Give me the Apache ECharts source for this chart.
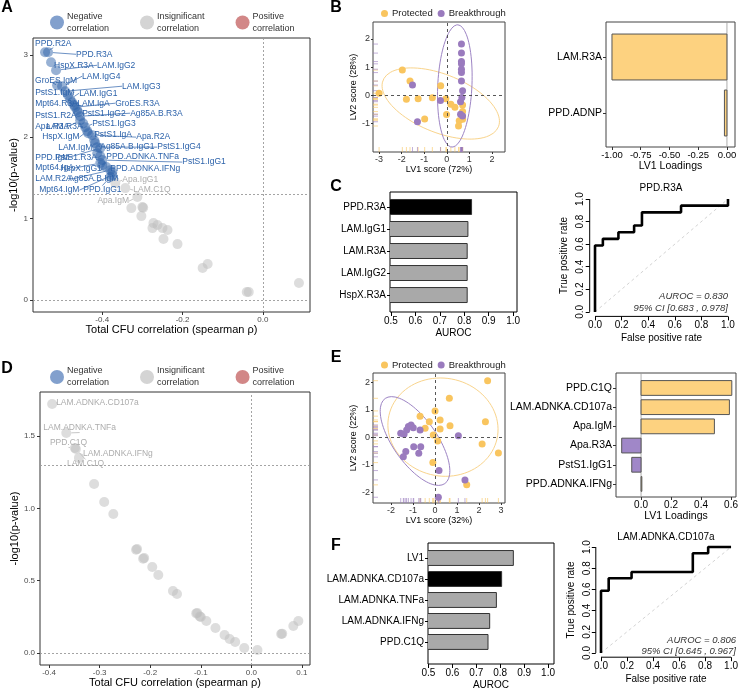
<!DOCTYPE html>
<html><head><meta charset="utf-8">
<script src="https://cdn.jsdelivr.net/npm/echarts@6.0.0/dist/echarts.min.js"></script>
<style>html,body{margin:0;padding:0;background:#fff;}#c{width:741px;height:693px;}</style>
</head><body><div id="c"></div>
<script>
// ================= DATA =================
// Panel A – volcano, significant (negative correlation)
const aSigNames = ['PPD.R2A','PPD.R3A','HspX.R3A','LAM.IgG2','GroES.IgM','LAM.IgG4','LAM.IgG3','PstS1.IgM','LAM.IgG1','Mpt64.R3A','LAM.IgA','GroES.R3A','PstS1.R2A','PstS1.IgG2','Ag85A.B.R3A','Apa.R3A','LAM.R3A','PstS1.IgG3','HspX.IgM','PstS1.IgA','Apa.R2A','LAM.IgM','Ag85A.B.IgG1','PstS1.IgG4','PPD.IgM','PstS1.R3A','PPD.ADNKA.TNFa','PstS1.IgG1','Mpt64.IgA','HspX.IgG1','PPD.ADNKA.IFNg','LAM.R2A','Ag85A.B.IgM','Mpt64.IgM','PPD.IgG1'];
const aSigRho = [-0.5425,-0.535,-0.5275,-0.515,-0.5125,-0.5,-0.4925,-0.485,-0.48,-0.475,-0.47,-0.4675,-0.4625,-0.46,-0.455,-0.455,-0.4475,-0.4425,-0.4375,-0.435,-0.425,-0.42,-0.4175,-0.4125,-0.405,-0.4125,-0.405,-0.40,-0.405,-0.40,-0.39,-0.38,-0.375,-0.375,-0.38];
const aSigLogP = [3.035,3.035,2.913,2.815,2.632,2.619,2.558,2.509,2.460,2.423,2.387,2.362,2.326,2.301,2.252,2.203,2.166,2.118,2.069,2.044,2.020,1.958,1.922,1.873,1.860,1.799,1.763,1.714,1.677,1.652,1.628,1.591,1.567,1.530,1.506];
// Panel A – insignificant
const aInsNames = ['Apa.IgG1','LAM.C1Q','Apa.IgM','','','','','','','','','','','','','','','',''];
const aInsRho = [-0.3675,-0.3425,-0.3125,-0.3275,-0.30,-0.298,-0.3025,-0.2725,-0.2625,-0.275,-0.25,-0.2375,-0.2475,-0.2125,-0.15,-0.1375,-0.04,-0.035,0.09];
const aInsLogP = [1.432,1.371,1.261,1.126,1.138,1.13,1.028,0.942,0.918,0.881,0.881,0.857,0.747,0.685,0.392,0.441,0.098,0.098,0.208];
const aXTicks = [-0.4,-0.2,0.0];
const aYTicks = [0,1,2,3];

// Panel B – PLS-DA scores
const bProtX = [-3.0,-1.97,-1.63,-1.79,-1.27,-0.64,-0.98,-0.27,-0.04,0.18,0.36,-0.01,0.70,0.70,0.55,0.70,0.52];
const bProtY = [0.08,0.90,0.51,-0.13,-0.12,-0.08,-0.83,0.34,-0.12,-0.31,-0.42,-0.67,-0.34,-0.57,-0.89,-0.84,-1.08];
const bBreakX = [-1.52,-1.30,-0.28,0.61,0.65,0.65,0.65,0.65,0.65,0.65,0.65,0.70,0.67,0.61,0.70];
const bBreakY = [0.37,-0.93,-0.18,-0.22,1.82,1.50,1.20,1.12,0.93,0.81,0.51,0.17,-0.07,-0.66,-0.73];
const bXTicks = [-3,-2,-1,0,1,2];
const bYTicks = [-1,0,1,2];
// confidence ellipses: centre + two conjugate semi-axes (data units)
const bEllProt = {c:[-0.267,-0.284], u:[2.556,-0.823], v:[-0.484,-0.954]};
const bEllBreak = {c:[0.356,0.337], u:[0.133,2.163], v:[0.756,-0.035]};
// Panel B – loadings
const bLoadNames = ['LAM.R3A','PPD.ADNP'];
const bLoadVals = [-1.0,-0.022];
const bLoadGroup = ['Protected','Protected'];
const bLoadTicks = [-1.0,-0.75,-0.5,-0.25,0.0];

// Panel C – AUROC bars and ROC
const cNames = ['PPD.R3A','LAM.IgG1','LAM.R3A','LAM.IgG2','HspX.R3A'];
const cAuroc = [0.830,0.815,0.812,0.812,0.812];
const cHighlight = 'PPD.R3A';
const cFpr = [0,0,0.059,0.059,0.176,0.176,0.294,0.294,0.353,0.353,0.647,0.647,1,1];
const cTpr = [0,0.588,0.588,0.647,0.647,0.706,0.706,0.765,0.765,0.882,0.882,0.941,0.941,1];
const aurocTicks = [0.5,0.6,0.7,0.8,0.9,1.0];
const rocTicks = [0,0.2,0.4,0.6,0.8,1.0];

// Panel D – volcano (all insignificant)
const dNames = ['LAM.ADNKA.CD107a','LAM.ADNKA.TNFa','PPD.C1Q','LAM.C1Q','LAM.ADNKA.IFNg','','','','','','','','','','','','','','','','','','','','','','','','',''];
const dRho = [-0.394,-0.366,-0.349,-0.347,-0.341,-0.311,-0.291,-0.273,-0.226,-0.228,-0.212,-0.214,-0.196,-0.184,-0.155,-0.147,-0.107,-0.109,-0.100,-0.102,-0.089,-0.071,-0.053,-0.043,-0.032,-0.014,0.012,0.059,0.061,0.083,0.093];
const dLogP = [1.723,1.522,1.419,1.412,1.350,1.170,1.045,0.962,0.720,0.715,0.657,0.652,0.595,0.540,0.429,0.408,0.277,0.274,0.249,0.252,0.221,0.173,0.125,0.097,0.076,0.035,0.021,0.131,0.134,0.187,0.221];
const dXTicks = [-0.4,-0.3,-0.2,-0.1,0.0,0.1];
const dYTicks = [0.0,0.5,1.0,1.5];

// Panel E – PLS-DA scores
const eProtX = [2.39,0.65,0.0,-0.68,0.23,0.68,-0.26,-0.45,0.23,2.29,-0.08,0.12,2.14,2.88,-0.10,1.44];
const eProtY = [2.06,1.42,0.96,0.77,0.63,0.42,0.57,0.33,0.30,0.57,0.08,-0.13,-0.24,-0.57,-0.92,-1.73];
const eBreakX = [1.06,-1.56,-1.41,-1.29,-1.21,-1.09,-0.99,-0.68,-0.97,-0.65,-0.74,-1.33,-1.44,0.18,1.36,0.15];
const eBreakY = [0.06,0.15,0.11,0.27,0.39,0.45,0.35,0.27,-0.34,-0.34,-0.58,-0.52,-0.71,-1.21,-1.55,-2.18];
const eXTicks = [-2,-1,0,1,2,3];
const eYTicks = [-2,-1,0,1,2];
const eEllProt = {c:[0.36,0.37], u:[2.5,-0.18], v:[-0.136,-1.78]};
const eEllBreak = {c:[-0.91,-0.135], u:[1.355,-1.549], v:[-0.818,-0.458]};
// Panel E – loadings
const eLoadNames = ['PPD.C1Q','LAM.ADNKA.CD107a','Apa.IgM','Apa.R3A','PstS1.IgG1','PPD.ADNKA.IFNg'];
const eLoadVals = [0.605,0.589,0.489,-0.129,-0.062,0.005];
const eLoadGroup = ['Protected','Protected','Protected','Breakthrough','Breakthrough','Protected'];
const eLoadTicks = [0.0,0.2,0.4,0.6];

// Panel F – AUROC bars and ROC
const fNames = ['LV1','LAM.ADNKA.CD107a','LAM.ADNKA.TNFa','LAM.ADNKA.IFNg','PPD.C1Q'];
const fAuroc = [0.855,0.806,0.784,0.756,0.749];
const fHighlight = 'LAM.ADNKA.CD107a';
const fFpr = [0,0,0.059,0.059,0.235,0.235,0.706,0.706,0.824,0.824,1];
const fTpr = [0,0.588,0.588,0.706,0.706,0.765,0.765,0.941,0.941,1,1];

// ================= STYLE =================
const FF = '"Liberation Sans", Arial, Helvetica, sans-serif';
const COL = {neg:'rgba(45,98,168,0.62)', negTxt:'#2c62aa', ins:'rgba(190,190,190,0.65)', insTxt:'#adadad', prot:'#F9C55F', breakC:'#9A7BBE',
  protEll:'#F9D48C', breakEll:'#9D84C4', protBar:'#FDD280', breakBar:'#A087C8'};
const aSigLabelOff = [[-10,-9],[28,2],[3,3],[41,-5],[-22,-5],[20,-10],[57,-5],[-33,-3],[9,-6],[-37,1],[3,-2],[40,-4],[-42,6],[4,1],[50,-3],[-45,6],[-37,3],[7,-3],[-45,6],[6,1],[44,2],[-36,7],[5,4],[60,0],[-65,9],[-42,4],[6,1],[80,2],[-65,5],[-42,3],[4,2],[-75,9],[-44,7],[-73,15],[-27,13]];
const aInsLabelOff = [[7,-3],[8,2],[-40,4]];
const dLabelOff = [[4,-1],[-23,-5],[-25,-5],[-9,15],[4,-4]];

function mkAxis(p){
  return {
    type:'value', gridIndex:p.g, min:p.min, max:p.max, inverse:!!p.inv,
    splitLine:{show:false},
    axisLine:{show:false, onZero:false},
    axisTick:{show:true, customValues:p.ticks, length:p.tl==null?3:p.tl, lineStyle:{color:p.tc||'#333', width:1}},
    axisLabel:{show:true, customValues:p.ticks, formatter:p.fmt||(v=>String(v)), fontFamily:FF, fontSize:p.fs||8,
      color:p.lc||'#4d4d4d', margin:p.m==null?4:p.m, rotate:p.rot||0},
    name:p.name||'', nameLocation:'middle', nameGap:p.gap||12, nameRotate:p.nr,
    nameTextStyle:{fontFamily:FF, fontSize:p.nfs||10, color:'#000'}
  };
}
function ell(e){ const pts=[]; for(let k=0;k<=90;k++){const t=2*Math.PI*k/90; pts.push([e.c[0]+e.u[0]*Math.cos(t)+e.v[0]*Math.sin(t), e.c[1]+e.u[1]*Math.cos(t)+e.v[1]*Math.sin(t)]);} return pts; }
function pairs(xs,ys){ return xs.map((x,i)=>[x,ys[i]]); }
function barSeries(g, vals, fills, strokes, frac, base){
  return {type:'custom', xAxisIndex:g, yAxisIndex:g, clip:true, silent:true,
    data: vals.map((v,i)=>[v,i]), encode:{x:0,y:1},
    renderItem:(params, api)=>{
      const v=api.value(0), i=api.value(1);
      const p0=api.coord([base,i]), p1=api.coord([v,i]);
      const h=Math.abs(api.size([0,1])[1])*frac;
      return {type:'rect', shape:{x:Math.min(p0[0],p1[0]), y:p0[1]-h/2, width:Math.max(Math.abs(p1[0]-p0[0]),0.8), height:h},
        style:{fill:fills[params.dataIndex], stroke:strokes[params.dataIndex], lineWidth:1}};
    }};
}
function rug(g, xs, ys, xMin, yMin, color){
  return [
    {type:'scatter', xAxisIndex:g, yAxisIndex:g, silent:true, clip:false, symbol:'rect', symbolSize:[1,5], symbolOffset:[0,-2.5],
     itemStyle:{color:color, opacity:0.6}, data: xs.map(x=>[x,yMin]), z:1},
    {type:'scatter', xAxisIndex:g, yAxisIndex:g, silent:true, clip:false, symbol:'rect', symbolSize:[5,1], symbolOffset:[2.5,0],
     itemStyle:{color:color, opacity:0.6}, data: ys.map(y=>[xMin,y]), z:1}
  ];
}
function lineS(g, data, color, width, type, z){
  return {type:'line', xAxisIndex:g, yAxisIndex:g, data:data, showSymbol:false, symbol:'none', silent:true, clip:false, z:z||2,
    lineStyle:{color:color, width:width, type:type||'solid'}};
}
function labOffLayout(offs){
  return function(p){ const o=offs[p.dataIndex]; if(!o) return {};
    return {x:p.rect.x+p.rect.width/2+o[0], y:p.rect.y+p.rect.height/2+o[1], align:'left', verticalAlign:'middle'}; };
}

const AX = {a:[-0.5725,0.1175,-0.147,3.21], b:[-3.27,2.58,-2.0,2.6], bl:[-1.052,0.07,-0.625,1.607], c:[0.496,1.016,-0.68,4.77],
  roc:[-0.04,1.04], d:[-0.418,0.116,-0.083,1.806], e:[-2.82,3.18,-2.39,2.34], el:[-0.167,0.633,-0.78,5.68], f:[0.498,1.025,-0.714,5.05]};
const thr = -Math.log10(0.05);

const xAxis = [
  mkAxis({g:0,min:AX.a[0],max:AX.a[1],ticks:aXTicks,fmt:v=>v.toFixed(1),name:'Total CFU correlation (spearman ρ)',gap:11,nfs:11,m:4}),
  mkAxis({g:1,min:AX.b[0],max:AX.b[1],ticks:bXTicks,name:'LV1 score (72%)',gap:10,fs:9,nfs:9,lc:'#333',m:3,tl:2}),
  mkAxis({g:2,min:AX.bl[0],max:AX.bl[1],ticks:bLoadTicks,fmt:v=>v.toFixed(2),name:'LV1 Loadings',gap:12,fs:9.5,nfs:10.5,lc:'#000',m:3}),
  mkAxis({g:3,min:AX.c[0],max:AX.c[1],ticks:aurocTicks,fmt:v=>v.toFixed(1),name:'AUROC',gap:16,fs:10,nfs:10,lc:'#000',m:4,tl:4,tc:'#000'}),
  mkAxis({g:4,min:AX.roc[0],max:AX.roc[1],ticks:rocTicks,fmt:v=>v.toFixed(1),name:'False positive rate',gap:17,fs:10,nfs:10,lc:'#000',m:4,tl:4,tc:'#000'}),
  mkAxis({g:5,min:AX.d[0],max:AX.d[1],ticks:dXTicks,fmt:v=>v.toFixed(1),name:'Total CFU correlation (spearman ρ)',gap:11,nfs:11,m:4}),
  mkAxis({g:6,min:AX.e[0],max:AX.e[1],ticks:eXTicks,name:'LV1 score (32%)',gap:10,fs:9,nfs:9,lc:'#333',m:3,tl:2}),
  mkAxis({g:7,min:AX.el[0],max:AX.el[1],ticks:eLoadTicks,fmt:v=>v.toFixed(1),name:'LV1 Loadings',gap:12,fs:10,nfs:10.5,lc:'#000',m:3}),
  mkAxis({g:8,min:AX.f[0],max:AX.f[1],ticks:aurocTicks,fmt:v=>v.toFixed(1),name:'AUROC',gap:16,fs:10,nfs:10,lc:'#000',m:4,tl:4,tc:'#000'}),
  mkAxis({g:9,min:AX.roc[0],max:AX.roc[1],ticks:rocTicks,fmt:v=>v.toFixed(1),name:'False positive rate',gap:17,fs:10,nfs:10,lc:'#000',m:4,tl:4,tc:'#000'})
];
const yAxis = [
  mkAxis({g:0,min:AX.a[2],max:AX.a[3],ticks:aYTicks,name:'-log10(p-value)',gap:14,nfs:11,m:5,nr:90}),
  mkAxis({g:1,min:AX.b[2],max:AX.b[3],ticks:bYTicks,name:'LV2 score (28%)',gap:12,fs:9,nfs:9,lc:'#333',m:3,tl:2,nr:90}),
  mkAxis({g:2,min:AX.bl[2],max:AX.bl[3],inv:true,ticks:[0,1],fmt:v=>bLoadNames[Math.round(v)],fs:10.5,lc:'#000',m:4}),
  mkAxis({g:3,min:AX.c[2],max:AX.c[3],inv:true,ticks:[0,1,2,3,4],fmt:v=>cNames[Math.round(v)],fs:10,lc:'#000',m:4,tl:3,tc:'#000'}),
  mkAxis({g:4,min:AX.roc[0],max:AX.roc[1],ticks:rocTicks,fmt:v=>v.toFixed(1),name:'True positive rate',gap:20,fs:10,nfs:10,lc:'#000',m:4,tl:4,tc:'#000',rot:90,nr:90}),
  mkAxis({g:5,min:AX.d[2],max:AX.d[3],ticks:dYTicks,fmt:v=>v.toFixed(1),name:'-log10(p-value)',gap:20,nfs:11,m:5,nr:90}),
  mkAxis({g:6,min:AX.e[2],max:AX.e[3],ticks:eYTicks,name:'LV2 score (22%)',gap:12,fs:9,nfs:9,lc:'#333',m:3,tl:2,nr:90}),
  mkAxis({g:7,min:AX.el[2],max:AX.el[3],inv:true,ticks:[0,1,2,3,4,5],fmt:v=>eLoadNames[Math.round(v)],fs:10.5,lc:'#000',m:4}),
  mkAxis({g:8,min:AX.f[2],max:AX.f[3],inv:true,ticks:[0,1,2,3,4],fmt:v=>fNames[Math.round(v)],fs:10,lc:'#000',m:4,tl:3,tc:'#000'}),
  mkAxis({g:9,min:AX.roc[0],max:AX.roc[1],ticks:rocTicks,fmt:v=>v.toFixed(1),name:'True positive rate',gap:20,fs:10,nfs:10,lc:'#000',m:4,tl:4,tc:'#000',rot:90,nr:90})
];

const grid = [
  {left:33, top:38, width:277, height:274, show:true, borderColor:'#333', borderWidth:1},
  {left:373, top:22, width:132, height:130, show:true, borderColor:'#444', borderWidth:1},
  {left:606, top:22, width:129, height:125, show:true, borderColor:'#444', borderWidth:1},
  {left:390, top:192, width:127, height:120, show:true, borderColor:'#000', borderWidth:1},
  {left:589.7, top:194.5, width:143.6, height:121.9, show:false},
  {left:40, top:392, width:270, height:273, show:true, borderColor:'#333', borderWidth:1},
  {left:373, top:373, width:132, height:130, show:true, borderColor:'#444', borderWidth:1},
  {left:616, top:373, width:120, height:124, show:true, borderColor:'#444', borderWidth:1},
  {left:428, top:543, width:126, height:121, show:true, borderColor:'#000', borderWidth:1},
  {left:595.8, top:542.8, width:141.4, height:114.4, show:false}
];

const refLineStyle = {color:'#9a9a9a', width:0.9, type:[2,2]};
const series = [];
// ---- A ----
series.push({name:'Insignificant correlation', type:'scatter', xAxisIndex:0, yAxisIndex:0, symbolSize:10, z:3,
  itemStyle:{color:COL.ins},
  data: aInsRho.map((x,i)=>({value:[x,aInsLogP[i]], name:aInsNames[i], label:{show:aInsNames[i]!==''}})),
  label:{show:true, formatter:'{b}', fontFamily:FF, fontSize:8.5, color:COL.insTxt, opacity:1},
  labelLayout: labOffLayout(aInsLabelOff), labelLine:{show:true, lineStyle:{color:COL.insTxt, width:0.7, opacity:1}},
  markLine:{silent:true, symbol:'none', label:{show:false}, lineStyle:refLineStyle, animation:false,
    data:[{xAxis:0},{yAxis:0},{yAxis:thr}]}});
series.push({name:'Negative correlation', type:'scatter', xAxisIndex:0, yAxisIndex:0, symbolSize:10, z:4,
  itemStyle:{color:COL.neg},
  data: aSigRho.map((x,i)=>({value:[x,aSigLogP[i]], name:aSigNames[i]})),
  label:{show:true, formatter:'{b}', fontFamily:FF, fontSize:8.5, color:COL.negTxt, opacity:1},
  labelLayout: labOffLayout(aSigLabelOff), labelLine:{show:true, lineStyle:{color:COL.negTxt, width:0.7, opacity:1}}});
series.push({name:'Positive correlation', type:'scatter', xAxisIndex:0, yAxisIndex:0, data:[], itemStyle:{color:'#d28787'}});
// ---- B ----
series.push(lineS(1, ell(bEllProt), COL.protEll, 1));
series.push(lineS(1, ell(bEllBreak), COL.breakEll, 1));
series.push(...rug(1, bProtX, bProtY, AX.b[0], AX.b[2], COL.prot));
series.push(...rug(1, bBreakX, bBreakY, AX.b[0], AX.b[2], COL.breakC));
series.push({name:'Protected', type:'scatter', xAxisIndex:1, yAxisIndex:1, symbolSize:7, z:3, itemStyle:{color:COL.prot, opacity:1},
  data:pairs(bProtX,bProtY),
  markLine:{silent:true, symbol:'none', label:{show:false}, lineStyle:{color:'#444', width:0.9, type:[3,3]}, data:[{xAxis:0},{yAxis:0}]}});
series.push({name:'Breakthrough', type:'scatter', xAxisIndex:1, yAxisIndex:1, symbolSize:7, z:3, itemStyle:{color:COL.breakC, opacity:1},
  data:pairs(bBreakX,bBreakY)});
// B loadings
series.push(barSeries(2, bLoadVals, bLoadGroup.map(g=>g==='Protected'?COL.protBar:COL.breakBar), bLoadGroup.map(()=> '#555'), 0.82, 0));
series.push(lineS(2, [[0,AX.bl[2]],[0,AX.bl[3]]], '#999', 0.8, 'solid', 1));
// ---- C ----
series.push(barSeries(3, cAuroc, cNames.map(n=>n===cHighlight?'#000':'#A9A9A9'), cNames.map(()=> '#333'), 0.68, 0));
series.push(lineS(4, [[0,0],[1,1]], '#c8c8c8', 0.8, [3,3], 1));
series.push(lineS(4, pairs(cFpr,cTpr), '#000', 2.6, 'solid', 3));
series.push(lineS(4, [[0,AX.roc[0]],[1,AX.roc[0]]], '#000', 1));
series.push(lineS(4, [[AX.roc[0],0],[AX.roc[0],1]], '#000', 1));
// ---- D ----
series.push({name:'Insignificant correlation', type:'scatter', xAxisIndex:5, yAxisIndex:5, symbolSize:10, z:3,
  itemStyle:{color:COL.ins},
  data: dRho.map((x,i)=>({value:[x,dLogP[i]], name:dNames[i]||'', label:{show:!!dNames[i]}})),
  label:{show:true, formatter:'{b}', fontFamily:FF, fontSize:8.5, color:COL.insTxt, opacity:1},
  labelLayout: labOffLayout(dLabelOff), labelLine:{show:true, lineStyle:{color:COL.insTxt, width:0.7, opacity:1}},
  markLine:{silent:true, symbol:'none', label:{show:false}, lineStyle:refLineStyle, data:[{xAxis:0},{yAxis:0},{yAxis:thr}]}});
// ---- E ----
series.push(lineS(6, ell(eEllProt), COL.protEll, 1));
series.push(lineS(6, ell(eEllBreak), COL.breakEll, 1));
series.push(...rug(6, eProtX, eProtY, AX.e[0], AX.e[2], COL.prot));
series.push(...rug(6, eBreakX, eBreakY, AX.e[0], AX.e[2], COL.breakC));
series.push({name:'Protected', type:'scatter', xAxisIndex:6, yAxisIndex:6, symbolSize:7, z:3, itemStyle:{color:COL.prot, opacity:1},
  data:pairs(eProtX,eProtY),
  markLine:{silent:true, symbol:'none', label:{show:false}, lineStyle:{color:'#444', width:0.9, type:[3,3]}, data:[{xAxis:0},{yAxis:0}]}});
series.push({name:'Breakthrough', type:'scatter', xAxisIndex:6, yAxisIndex:6, symbolSize:7, z:3, itemStyle:{color:COL.breakC, opacity:1},
  data:pairs(eBreakX,eBreakY)});
series.push(barSeries(7, eLoadVals, eLoadGroup.map(g=>g==='Protected'?COL.protBar:COL.breakBar), eLoadGroup.map(()=> '#555'), 0.77, 0));
series.push(lineS(7, [[0,AX.el[2]],[0,AX.el[3]]], '#999', 0.8, 'solid', 1));
// ---- F ----
series.push(barSeries(8, fAuroc, fNames.map(n=>n===fHighlight?'#000':'#A9A9A9'), fNames.map(()=> '#333'), 0.71, 0));
series.push(lineS(9, [[0,0],[1,1]], '#c8c8c8', 0.8, [3,3], 1));
series.push(lineS(9, pairs(fFpr,fTpr), '#000', 2.6, 'solid', 3));
series.push(lineS(9, [[0,AX.roc[0]],[1,AX.roc[0]]], '#000', 1));
series.push(lineS(9, [[AX.roc[0],0],[AX.roc[0],1]], '#000', 1));

const corrLegend = (top)=>({
  data:[{name:'Negative correlation', itemStyle:{color:'#82a0cd', opacity:1}},
        {name:'Insignificant correlation', itemStyle:{color:'#d4d4d4', opacity:1}},
        {name:'Positive correlation', itemStyle:{color:'#d28787', opacity:1}}],
  left:50, top:top, icon:'circle', itemWidth:14, itemHeight:14, itemGap:31, selectedMode:false, padding:0,
  formatter:n=>n.replace(' ','\n'), textStyle:{fontFamily:FF, fontSize:9, lineHeight:12, color:'#333', padding:[0,0,0,-2]}
});
const grpLegend = (top)=>({
  data:['Protected','Breakthrough'], left:381, top:top, icon:'circle', itemWidth:7, itemHeight:7, itemGap:5, selectedMode:false, padding:0,
  textStyle:{fontFamily:FF, fontSize:9.5, color:'#222', padding:[0,0,0,-1]}
});

function txt(t, x, y, font, align, color){
  return {type:'text', x:x, y:y, silent:true, style:{text:t, font:font, fill:color||'#000', textAlign:align||'center', textVerticalAlign:'middle'}};
}
const graphic = [
  txt('A', 7, 8, `bold 16px ${FF}`), txt('B', 336, 8, `bold 16px ${FF}`), txt('C', 336, 187, `bold 16px ${FF}`),
  txt('D', 7, 369, `bold 16px ${FF}`), txt('E', 336, 358, `bold 16px ${FF}`), txt('F', 336, 546, `bold 16px ${FF}`),
  txt('PPD.R3A', 661, 188, `10px ${FF}`), txt('LAM.ADNKA.CD107a', 666, 537, `10px ${FF}`),
  txt('AUROC = 0.830', 728, 296, `italic 9.5px ${FF}`, 'right', '#333'),
  txt('95% CI [0.683 , 0.978]', 728, 308, `italic 9.5px ${FF}`, 'right', '#333'),
  txt('AUROC = 0.806', 736, 640, `italic 9.5px ${FF}`, 'right', '#333'),
  txt('95% CI [0.645 , 0.967]', 736, 651, `italic 9.5px ${FF}`, 'right', '#333')
];

const chart = echarts.init(document.getElementById('c'), null, {renderer:'canvas'});
chart.setOption({
  animation:false, backgroundColor:'#fff', textStyle:{fontFamily:FF},
  grid:grid, xAxis:xAxis, yAxis:yAxis, series:series,
  legend:[corrLegend(10.5), grpLegend(8.5), corrLegend(365), grpLegend(360)],
  graphic:graphic
});
</script></body></html>
